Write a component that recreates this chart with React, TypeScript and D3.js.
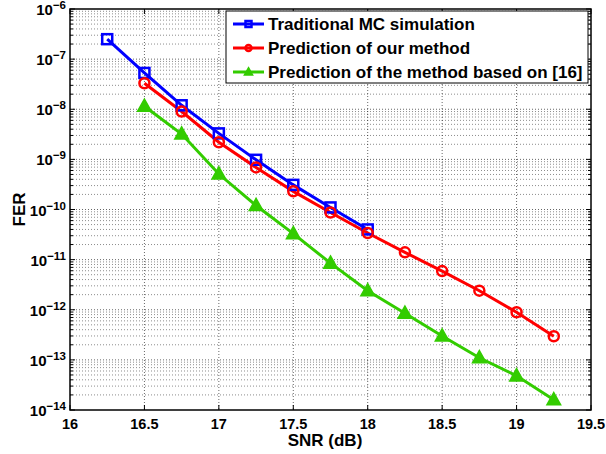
import React from "react";
import * as d3 from "d3";

const snrBlue = [16.25, 16.5, 16.75, 17, 17.25, 17.5, 17.75, 18];
const ferBlue = [2.5e-7, 5.3e-8, 1.2e-8, 3.3e-9, 9.8e-10, 3.1e-10, 1.1e-10, 4.0e-11];
const snrRed = [16.5, 16.75, 17, 17.25, 17.5, 17.75, 18, 18.25, 18.5, 18.75, 19, 19.25];
const ferRed = [3.3e-8, 9e-9, 2.2e-9, 6.9e-10, 2.3e-10, 8.7e-11, 3.4e-11, 1.4e-11, 5.9e-12, 2.4e-12, 8.9e-13, 2.96e-13];
const snrGreen = [16.5, 16.75, 17, 17.25, 17.5, 17.75, 18, 18.25, 18.5, 18.75, 19, 19.25];
const ferGreen = [1.15e-8, 3.2e-9, 5.1e-10, 1.2e-10, 3.3e-11, 8.5e-12, 2.4e-12, 8.5e-13, 3e-13, 1.1e-13, 4.8e-14, 1.6e-14];
const xTicks = [16, 16.5, 17, 17.5, 18, 18.5, 19, 19.5];
const xTickLabels = ["16", "16.5", "17", "17.5", "18", "18.5", "19", "19.5"];
const yExponents = [-6, -7, -8, -9, -10, -11, -12, -13, -14];
const legendLabels = [
  "Traditional MC simulation",
  "Prediction of our method",
  "Prediction of the method based on [16]",
];

const BLUE = "#0000ff";
const RED = "#ff0000";
const GREEN = "#33cc00";

const L = 70, R = 591, T = 9, B = 410;
const FONT = "'Liberation Sans', Arial, Helvetica, sans-serif";

export default function App() {
  const x = d3.scaleLinear().domain([16, 19.5]).range([L, R]);
  const y = d3.scaleLog().domain([1e-14, 1e-6]).range([B, T]);

  const minorY: number[] = [];
  for (let e = -14; e < -6; e++) {
    for (let m = 2; m <= 9; m++) minorY.push(m * Math.pow(10, e));
  }

  const line = d3
    .line<[number, number]>()
    .x((d) => x(d[0]))
    .y((d) => y(d[1]));

  const blue: [number, number][] = snrBlue.map((s, i) => [s, ferBlue[i]]);
  const red: [number, number][] = snrRed.map((s, i) => [s, ferRed[i]]);
  const green: [number, number][] = snrGreen.map((s, i) => [s, ferGreen[i]]);

  const square = (cx: number, cy: number, key: any, s = 10) => (
    <rect key={key} x={cx - s / 2} y={cy - s / 2} width={s} height={s} fill="none" stroke={BLUE} strokeWidth={2.5} />
  );
  const circle = (cx: number, cy: number, key: any, s = 10) => (
    <circle key={key} cx={cx} cy={cy} r={s / 2} fill="none" stroke={RED} strokeWidth={2.5} />
  );
  const tri = (cx: number, cy: number, key: any, s0 = 10) => {
    const s = s0 * 0.72;
    return (
      <path
        key={key}
        d={`M${cx},${cy - s} L${cx + s * 0.95},${cy + s * 0.7} L${cx - s * 0.95},${cy + s * 0.7} Z`}
        fill={GREEN}
        stroke={GREEN}
        strokeWidth={1.5}
        strokeLinejoin="miter"
      />
    );
  };

  const legendRows = [
    { color: BLUE, marker: square },
    { color: RED, marker: circle },
    { color: GREEN, marker: tri },
  ];
  const legX = 226, legY = 11, legW = 362, legH = 72;
  const rowY = [24, 48, 72];

  return (
    <svg width={606} height={454} style={{ display: "block", position: "absolute", left: 0, top: 0 }} fontFamily={FONT}>
      <rect x={0} y={0} width={606} height={454} fill="white" />
      {/* grid */}
      <g stroke="#000" strokeOpacity={0.6} strokeWidth={1} strokeDasharray="1 2" fill="none">
        {xTicks.slice(1, -1).map((t, i) => (
          <line key={"gx" + i} x1={x(t)} x2={x(t)} y1={T} y2={B} />
        ))}
        {yExponents.slice(1, -1).map((e, i) => (
          <line key={"gy" + i} x1={L} x2={R} y1={y(Math.pow(10, e))} y2={y(Math.pow(10, e))} />
        ))}
        {minorY.map((v, i) => (
          <line key={"gm" + i} x1={L} x2={R} y1={y(v)} y2={y(v)} strokeOpacity={0.45} />
        ))}
      </g>
      {/* ticks */}
      <g stroke="#000" strokeWidth={1}>
        {xTicks.map((t, i) => (
          <g key={"xt" + i}>
            <line x1={x(t)} x2={x(t)} y1={B} y2={B - 5} />
            <line x1={x(t)} x2={x(t)} y1={T} y2={T + 5} />
          </g>
        ))}
        {yExponents.map((e, i) => (
          <g key={"yt" + i}>
            <line x1={L} x2={L + 5} y1={y(Math.pow(10, e))} y2={y(Math.pow(10, e))} />
            <line x1={R} x2={R - 5} y1={y(Math.pow(10, e))} y2={y(Math.pow(10, e))} />
          </g>
        ))}
        {minorY.map((v, i) => (
          <g key={"ym" + i}>
            <line x1={L} x2={L + 3} y1={y(v)} y2={y(v)} />
            <line x1={R} x2={R - 3} y1={y(v)} y2={y(v)} />
          </g>
        ))}
      </g>
      {/* series */}
      <path d={line(blue) || ""} fill="none" stroke={BLUE} strokeWidth={3} />
      <path d={line(red) || ""} fill="none" stroke={RED} strokeWidth={3} />
      <path d={line(green) || ""} fill="none" stroke={GREEN} strokeWidth={3} />
      {blue.map((d, i) => square(x(d[0]), y(d[1]), "b" + i))}
      {red.map((d, i) => circle(x(d[0]), y(d[1]), "r" + i))}
      {green.map((d, i) => tri(x(d[0]), y(d[1]), "g" + i))}
      {/* box */}
      <rect x={L} y={T} width={R - L} height={B - T} fill="none" stroke="#000" strokeWidth={1.5} />
      {/* tick labels */}
      <g fontWeight="bold" fontSize={14.5} fill="#000">
        {xTicks.map((t, i) => (
          <text key={"xl" + i} x={x(t)} y={429} textAnchor="middle">
            {xTickLabels[i]}
          </text>
        ))}
        {yExponents.map((e, i) => (
          <text key={"yl" + i} x={66} y={y(Math.pow(10, e)) + 6} textAnchor="end" fontSize={15}>
            <tspan>10</tspan>
            <tspan dy={-6} fontSize={11.5}>{"\u2212" + Math.abs(e)}</tspan>
          </text>
        ))}
        <text x={325} y={446} textAnchor="middle" fontSize={17}>SNR (dB)</text>
        <text transform={`translate(25,${(T + B) / 2}) rotate(-90)`} textAnchor="middle" fontSize={17}>FER</text>
      </g>
      {/* legend */}
      <rect x={legX} y={legY} width={legW} height={legH} fill="white" stroke="#000" strokeWidth={1} />
      {legendRows.map((r, i) => (
        <g key={"lg" + i}>
          <line x1={233} x2={264} y1={rowY[i]} y2={rowY[i]} stroke={r.color} strokeWidth={3} />
          {r.marker(248.5, rowY[i], "lm" + i, 6)}
          <text x={268} y={rowY[i] + 6} fontWeight="bold" fontSize={17}>
            {legendLabels[i]}
          </text>
        </g>
      ))}
    </svg>
  );
}
